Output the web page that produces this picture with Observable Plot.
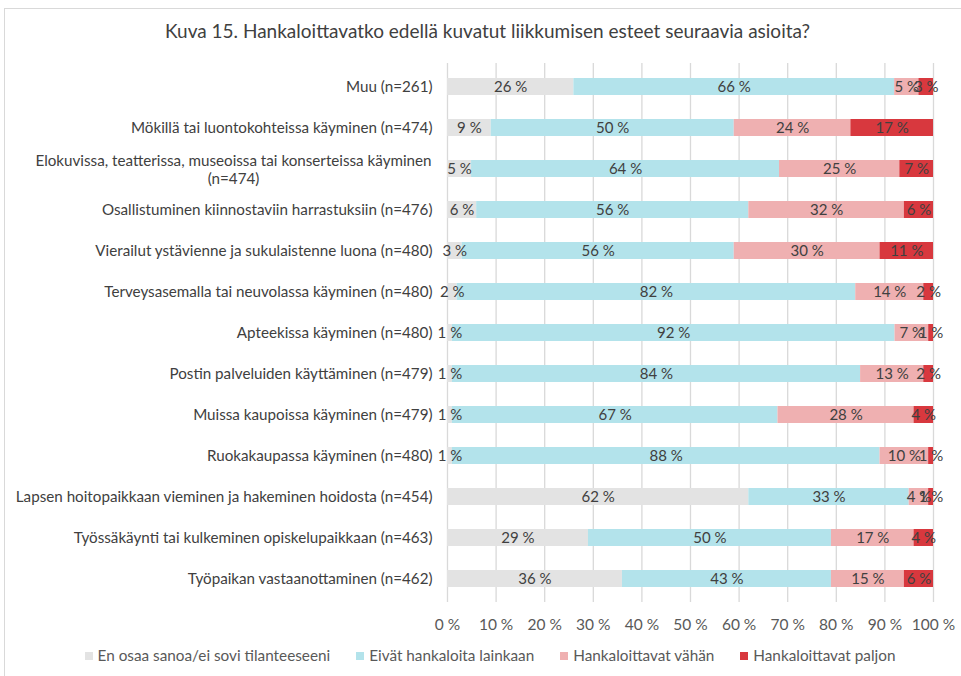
<!DOCTYPE html>
<html>
<head>
<meta charset="utf-8">
<script src="https://cdn.jsdelivr.net/npm/d3@7"></script>
<script src="https://cdn.jsdelivr.net/npm/@observablehq/plot@0.6"></script>
<style>
  html, body { margin: 0; padding: 0; background: #fff; overflow: hidden; }
  #wrap { position: relative; width: 961px; height: 676px; font-family: Lato, "Open Sans", sans-serif; color: #404040; }
  #frame { position: absolute; left: 4px; top: 8px; width: 1000px; height: 1000px; border: 1.5px solid #d9d9d9; box-sizing: border-box; }
  #title { position: absolute; top: 19px; left: 0; width: 975px; text-align: center; font-size: 19px; color: #404040; }
  #chart { position: absolute; left: 0; top: 0; }
  #legend { position: absolute; top: 646px; left: 0; width: 980px; display: flex; justify-content: center; gap: 26px; font-size: 15.3px; color: #595959; }
  #legend span.sw { display: inline-block; width: 8px; height: 8px; margin-right: 5px; vertical-align: 1px; }
</style>
</head>
<body>
<div id="wrap">
  <div id="frame"></div>
  <div id="chart"></div>
  <div id="title">Kuva 15. Hankaloittavatko edellä kuvatut liikkumisen esteet seuraavia asioita?</div>
  <div id="legend"></div>
</div>
<script>
const categories = [
  "Muu (n=261)",
  "Mökillä tai luontokohteissa käyminen (n=474)",
  "Elokuvissa, teatterissa, museoissa tai konserteissa käyminen\n(n=474)",
  "Osallistuminen kiinnostaviin harrastuksiin (n=476)",
  "Vierailut ystävienne ja sukulaistenne luona (n=480)",
  "Terveysasemalla tai neuvolassa käyminen (n=480)",
  "Apteekissa käyminen (n=480)",
  "Postin palveluiden käyttäminen (n=479)",
  "Muissa kaupoissa käyminen (n=479)",
  "Ruokakaupassa käyminen (n=480)",
  "Lapsen hoitopaikkaan vieminen ja hakeminen hoidosta (n=454)",
  "Työssäkäynti tai kulkeminen opiskelupaikkaan (n=463)",
  "Työpaikan vastaanottaminen (n=462)"
];
const series = ["En osaa sanoa/ei sovi tilanteeseeni", "Eivät hankaloita lainkaan", "Hankaloittavat vähän", "Hankaloittavat paljon"];
const eiOsaa = [26, 9, 5, 6, 3, 2, 1, 1, 1, 1, 62, 29, 36];
const eivat  = [66, 50, 64, 56, 56, 82, 92, 84, 67, 88, 33, 50, 43];
const vahan  = [5, 24, 25, 32, 30, 14, 7, 13, 28, 10, 4, 17, 15];
const paljon = [3, 17, 7, 6, 11, 2, 1, 2, 4, 1, 1, 4, 6];
const xTicks = [0, 0.1, 0.2, 0.3, 0.4, 0.5, 0.6, 0.7, 0.8, 0.9, 1];
const colors = ["#e3e3e3", "#b3e3eb", "#efb0b1", "#d8383e"];

const valueArrays = [eiOsaa, eivat, vahan, paljon];
const rows = [];
categories.forEach((c, i) => {
  valueArrays.forEach((arr, j) => rows.push({cat: c, series: series[j], value: arr[i]}));
});
const multiCat = categories.find(c => c.includes("\n"));
const stack = {x: "value", y: "cat", z: "series", order: series, offset: "normalize"};

const chart = Plot.plot({
  width: 961,
  height: 645,
  marginLeft: 447,
  marginRight: 28,
  marginTop: 63,
  marginBottom: 43,
  style: {fontFamily: "Lato, 'Open Sans', sans-serif", fontSize: "15px", color: "#404040", background: "transparent"},
  x: {domain: [0, 1]},
  y: {domain: categories, paddingInner: 0.59, paddingOuter: 0.295, label: null},
  color: {domain: series, range: colors},
  marks: [
    Plot.gridX(xTicks, {stroke: "#d9d9d9", strokeOpacity: 1, strokeWidth: 1.3}),
    Plot.barX(rows, Plot.stackX({...stack, fill: "series"})),
    Plot.text(rows, Plot.stackX({...stack, text: d => d.value + " %", fill: "#404040", fontSize: 15})),
    Plot.axisX(xTicks, {tickSize: 0, tickPadding: 16, tickFormat: d => Math.round(d * 100) + " %", label: null, fill: "#595959", fontSize: 15.5}),
    Plot.axisY({tickSize: 0, tickPadding: 15, tickFormat: d => d === multiCat ? "" : d, label: null, fill: "#404040", fontSize: 15.2}),
    Plot.text([multiCat], {y: d => d, text: d => d, frameAnchor: "left", textAnchor: "middle", dx: -214, fill: "#404040", fontSize: 15.2, lineHeight: 1.2})
  ]
});
document.getElementById("chart").appendChild(chart);

const legend = document.getElementById("legend");
series.forEach((s, i) => {
  const item = document.createElement("div");
  item.innerHTML = `<span class="sw" style="background:${colors[i]}"></span>${s}`;
  legend.appendChild(item);
});
</script>
</body>
</html>
